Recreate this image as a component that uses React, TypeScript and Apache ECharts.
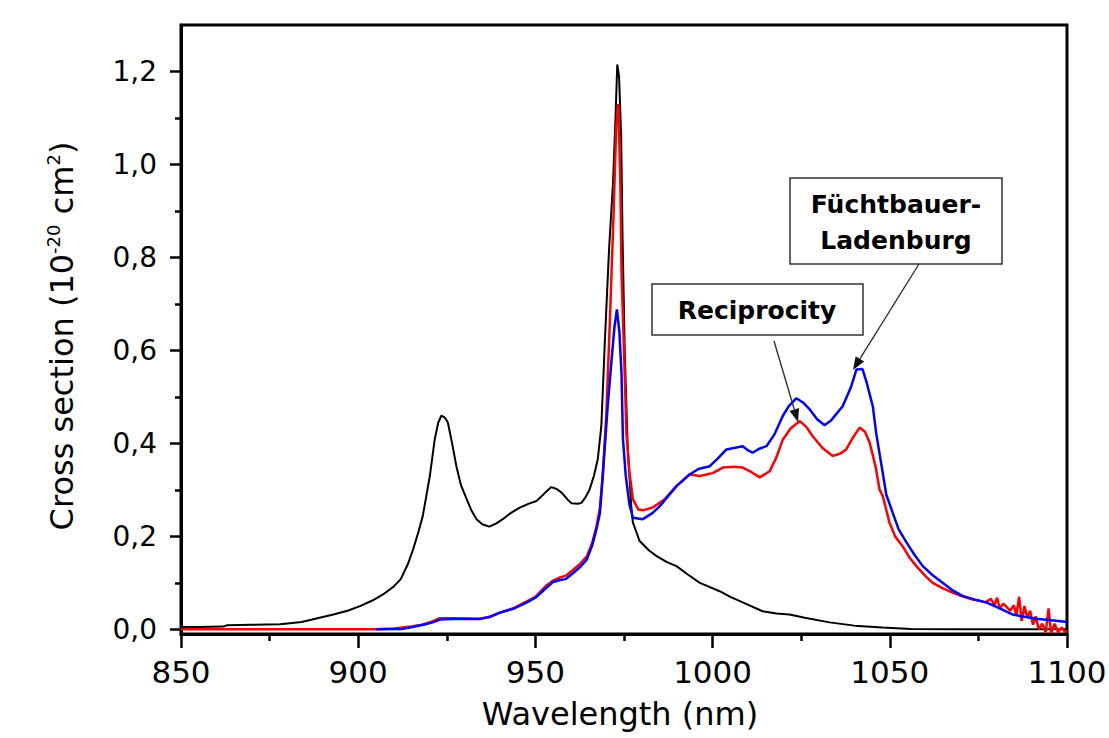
import React, { useEffect, useRef } from 'react';
import * as echarts from 'echarts';

// Absorption (black)
const absWl = [850, 855, 862, 863, 870, 878, 884, 887, 893, 897, 900.5, 904, 907, 910, 912, 914, 915.5, 917, 918.2, 920.2, 921.6, 922.6, 923.5, 924.5, 925.3, 926.5, 927.7, 929, 930.6, 932, 933.4, 935, 937, 939, 940.8, 943, 945.6, 948, 950.3, 952.5, 954.5, 956, 957.4, 959, 960.2, 962, 963, 964.2, 965.3, 966.5, 967.6, 968.6, 969.6, 970.8, 971.9, 972.6, 973.1, 973.6, 974.2, 974.6, 975.2, 976, 977, 977.5, 979.4, 982, 984.1, 987, 989.8, 993, 996.4, 1002, 1005, 1008.5, 1014.1, 1018, 1021.7, 1026, 1033, 1040, 1048, 1056, 1070, 1100];
const absVal = [0.005, 0.005, 0.006, 0.009, 0.010, 0.011, 0.016, 0.021, 0.032, 0.040, 0.050, 0.062, 0.075, 0.092, 0.108, 0.140, 0.172, 0.210, 0.243, 0.329, 0.409, 0.445, 0.460, 0.455, 0.445, 0.400, 0.351, 0.310, 0.280, 0.255, 0.237, 0.226, 0.221, 0.228, 0.237, 0.250, 0.262, 0.270, 0.276, 0.292, 0.306, 0.302, 0.294, 0.280, 0.271, 0.270, 0.272, 0.285, 0.301, 0.330, 0.366, 0.437, 0.62, 0.82, 0.96, 1.10, 1.215, 1.19, 1.06, 0.84, 0.60, 0.40, 0.27, 0.23, 0.19, 0.170, 0.158, 0.145, 0.136, 0.118, 0.100, 0.082, 0.070, 0.058, 0.039, 0.034, 0.032, 0.025, 0.015, 0.008, 0.004, 0.001, 0.0, 0.0];

// Reciprocity (red)
const recWl = [850, 905, 910, 915, 918, 921, 923, 927, 934, 937, 940, 944, 947.6, 950, 953.2, 955, 957, 958.5, 960.5, 962.5, 964.5, 966, 967.2, 968.2, 969, 970, 971, 972, 972.8, 973.4, 974, 974.3, 975.2, 975.7, 976.5, 977.5, 979, 980.3, 983.1, 986.5, 989.8, 993.5, 996.4, 1000, 1002.9, 1006, 1008.5, 1011, 1013.3, 1016.1, 1018, 1019.8, 1022, 1024.6, 1026.5, 1028.2, 1031, 1033.9, 1036, 1037.7, 1039.8, 1041.5, 1043, 1044.3, 1046, 1047.1, 1048, 1049.9, 1051.5, 1053.6, 1055.5, 1057.5, 1060, 1062.1, 1065, 1067.7, 1070, 1073.4, 1075, 1077, 1078.5, 1079.5, 1080.3, 1081, 1082, 1083, 1084, 1085, 1085.7, 1086.5, 1087.2, 1088, 1088.8, 1089.6, 1090.4, 1091.2, 1092, 1093, 1094, 1094.8, 1095.5, 1096.5, 1097.5, 1098.5, 1099.5, 1100];
const recVal = [0.0, 0.0, 0.002, 0.006, 0.010, 0.017, 0.024, 0.024, 0.023, 0.026, 0.036, 0.046, 0.060, 0.070, 0.095, 0.105, 0.112, 0.115, 0.127, 0.140, 0.157, 0.185, 0.22, 0.26, 0.33, 0.46, 0.66, 0.88, 1.08, 1.13, 0.95, 0.77, 0.55, 0.42, 0.34, 0.28, 0.258, 0.256, 0.262, 0.280, 0.308, 0.333, 0.330, 0.336, 0.348, 0.350, 0.348, 0.338, 0.327, 0.340, 0.370, 0.408, 0.432, 0.448, 0.435, 0.416, 0.390, 0.373, 0.378, 0.387, 0.415, 0.434, 0.425, 0.402, 0.350, 0.301, 0.287, 0.230, 0.200, 0.179, 0.155, 0.136, 0.115, 0.100, 0.088, 0.079, 0.072, 0.064, 0.062, 0.058, 0.066, 0.052, 0.068, 0.044, 0.055, 0.048, 0.040, 0.052, 0.030, 0.070, 0.018, 0.050, 0.025, 0.040, 0.010, 0.028, 0.000, 0.012, -0.006, 0.045, -0.008, 0.012, -0.006, 0.004, -0.006, -0.003];

// Füchtbauer-Ladenburg (blue)
const flWl = [905, 912.6, 916, 919, 921, 923, 927, 934.3, 937, 940, 944, 947.6, 950, 953.2, 955, 957, 958.5, 960.5, 962.5, 964.5, 966, 967.2, 968.2, 969, 970.4, 971.5, 972.3, 973, 973.7, 974.3, 974.7, 975.5, 976.5, 977.5, 980.3, 983, 985.1, 989.8, 993.5, 996, 999.2, 1001.5, 1003.9, 1006, 1008.5, 1010, 1011.3, 1013, 1015.2, 1017.5, 1019.8, 1021.5, 1023.6, 1025.5, 1027.4, 1029.5, 1031.6, 1033.5, 1036.7, 1039, 1040.6, 1042.3, 1043.5, 1045.2, 1046.2, 1048, 1049, 1050.8, 1052.5, 1054.7, 1057, 1059.3, 1062, 1064.9, 1067.5, 1070.5, 1074, 1077.2, 1081, 1084.6, 1088, 1091.3, 1095, 1100];
const flVal = [0.0, 0.001, 0.006, 0.011, 0.015, 0.021, 0.022, 0.022, 0.027, 0.036, 0.045, 0.058, 0.068, 0.090, 0.102, 0.106, 0.108, 0.120, 0.133, 0.150, 0.180, 0.215, 0.25, 0.33, 0.48, 0.58, 0.65, 0.688, 0.64, 0.55, 0.41, 0.33, 0.27, 0.24, 0.237, 0.250, 0.265, 0.308, 0.333, 0.345, 0.351, 0.368, 0.387, 0.390, 0.394, 0.385, 0.380, 0.388, 0.394, 0.420, 0.459, 0.480, 0.497, 0.488, 0.473, 0.452, 0.439, 0.450, 0.480, 0.520, 0.559, 0.560, 0.530, 0.480, 0.420, 0.337, 0.290, 0.251, 0.215, 0.187, 0.160, 0.136, 0.117, 0.100, 0.085, 0.072, 0.064, 0.058, 0.045, 0.032, 0.027, 0.023, 0.020, 0.016];

const yMajorTicks = [0, 0.2, 0.4, 0.6, 0.8, 1.0, 1.2];
const yMinorTicks = [0.1, 0.3, 0.5, 0.7, 0.9, 1.1];

const FONT = '"DejaVu Sans", sans-serif';

function zip(a: number[], b: number[]) {
  return a.map((x, i) => [x, b[i]]);
}

function arrow(x1: number, y1: number, x2: number, y2: number) {
  const dx = x2 - x1, dy = y2 - y1;
  const len = Math.hypot(dx, dy);
  const ux = dx / len, uy = dy / len;
  const hl = 13, hw = 5;
  const bx = x2 - ux * hl, by = y2 - uy * hl;
  return [
    { type: 'line', z: 20, shape: { x1, y1, x2: bx, y2: by }, style: { stroke: '#333', lineWidth: 1.4 } },
    {
      type: 'polygon', z: 20,
      shape: { points: [[x2, y2], [bx - uy * hw, by + ux * hw], [bx + uy * hw, by - ux * hw]] },
      style: { fill: '#111' },
    },
  ];
}

export default function App() {
  const ref = useRef<HTMLDivElement>(null);
  useEffect(() => {
    if (!ref.current) return;
    const chart = echarts.init(ref.current, null, { renderer: 'svg' });
    const option: any = {
      animation: false,
      backgroundColor: '#fff',
      grid: {
        left: 181, right: 42, top: 25, bottom: 104, show: true, borderColor: '#000', borderWidth: 3,
        backgroundColor: 'transparent', containLabel: false, outerBoundsMode: 'none',
      },
      xAxis: {
        type: 'value', min: 850, max: 1100, interval: 50,
        axisLine: { show: true, onZero: false, lineStyle: { color: '#000', width: 3 } },
        axisTick: { show: true, length: 14, lineStyle: { color: '#000', width: 2.5 } },
        minorTick: { show: true, splitNumber: 2, length: 7, lineStyle: { color: '#000', width: 2.5 } },
        axisLabel: { color: '#000', fontSize: 31, fontFamily: FONT, margin: 22, formatter: (v: number) => String(v) },
        splitLine: { show: false },
        minorSplitLine: { show: false },
      },
      yAxis: [
        {
          type: 'value', min: -0.01, max: 1.3, position: 'left',
          axisLine: { show: true, lineStyle: { color: '#000', width: 3 } },
          axisTick: { show: true, length: 11, customValues: yMajorTicks, lineStyle: { color: '#000', width: 2.5 } },
          axisLabel: {
            color: '#000', fontSize: 28, fontFamily: FONT, margin: 24, customValues: yMajorTicks,
            formatter: (v: number) => v.toFixed(1).replace('.', ','),
          },
          splitLine: { show: false },
        },
        {
          type: 'value', min: -0.01, max: 1.3, position: 'left',
          axisLine: { show: false },
          axisTick: { show: true, length: 6, customValues: yMinorTicks, lineStyle: { color: '#000', width: 2.5 } },
          axisLabel: { show: false },
          splitLine: { show: false },
        },
      ],
      series: [
        { type: 'line', name: 'Absorption', data: zip(absWl, absVal), showSymbol: false, symbol: 'none', lineStyle: { color: '#000', width: 2 }, z: 2 },
        { type: 'line', name: 'Reciprocity', data: zip(recWl, recVal), showSymbol: false, symbol: 'none', lineStyle: { color: '#ff0000', width: 2.5 }, z: 3 },
        { type: 'line', name: 'Füchtbauer-Ladenburg', data: zip(flWl, flVal), showSymbol: false, symbol: 'none', lineStyle: { color: '#0000ff', width: 2.5 }, z: 4 },
      ],
      graphic: [
        {
          type: 'text', x: 62, y: 336, rotation: Math.PI / 2, z: 20,
          style: {
            text: '{a|Cross section (10}{s|-20}{a| cm}{s|2}{a|)}',
            align: 'center', verticalAlign: 'middle', textAlign: 'center', textVerticalAlign: 'middle',
            fill: '#000',
            rich: {
              a: { fontSize: 32, fontFamily: FONT, fill: '#000', lineHeight: 40, verticalAlign: 'middle' },
              s: { fontSize: 18, fontFamily: FONT, fill: '#000', lineHeight: 40, verticalAlign: 'top', padding: [2, 0, 0, 0] },
            },
          },
        },
        {
          type: 'text', x: 620, y: 714, z: 20,
          style: {
            text: 'Wavelength (nm)', fontSize: 32, fontFamily: FONT, fill: '#000',
            align: 'center', verticalAlign: 'middle', textAlign: 'center', textVerticalAlign: 'middle',
          },
        },
        { type: 'rect', z: 15, shape: { x: 790, y: 178, width: 212, height: 86 }, style: { fill: '#fff', stroke: '#333', lineWidth: 1.5 } },
        {
          type: 'text', x: 896, y: 222, z: 20,
          style: {
            text: 'Füchtbauer-\nLadenburg', fontSize: 25, fontWeight: 'bold', fontFamily: FONT, fill: '#000', lineHeight: 36,
            align: 'center', verticalAlign: 'middle', textAlign: 'center', textVerticalAlign: 'middle',
          },
        },
        { type: 'rect', z: 15, shape: { x: 652, y: 284, width: 211, height: 51 }, style: { fill: '#fff', stroke: '#333', lineWidth: 1.5 } },
        {
          type: 'text', x: 757, y: 310, z: 20,
          style: {
            text: 'Reciprocity', fontSize: 25, fontWeight: 'bold', fontFamily: FONT, fill: '#000',
            align: 'center', verticalAlign: 'middle', textAlign: 'center', textVerticalAlign: 'middle',
          },
        },
        ...arrow(919, 264, 853, 370),
        ...arrow(774, 341, 798, 422),
      ],
    };
    chart.setOption(option);
    return () => chart.dispose();
  }, []);
  return <div ref={ref} style={{ position: 'fixed', left: 0, top: 0, width: 1109, height: 738 }} />;
}
